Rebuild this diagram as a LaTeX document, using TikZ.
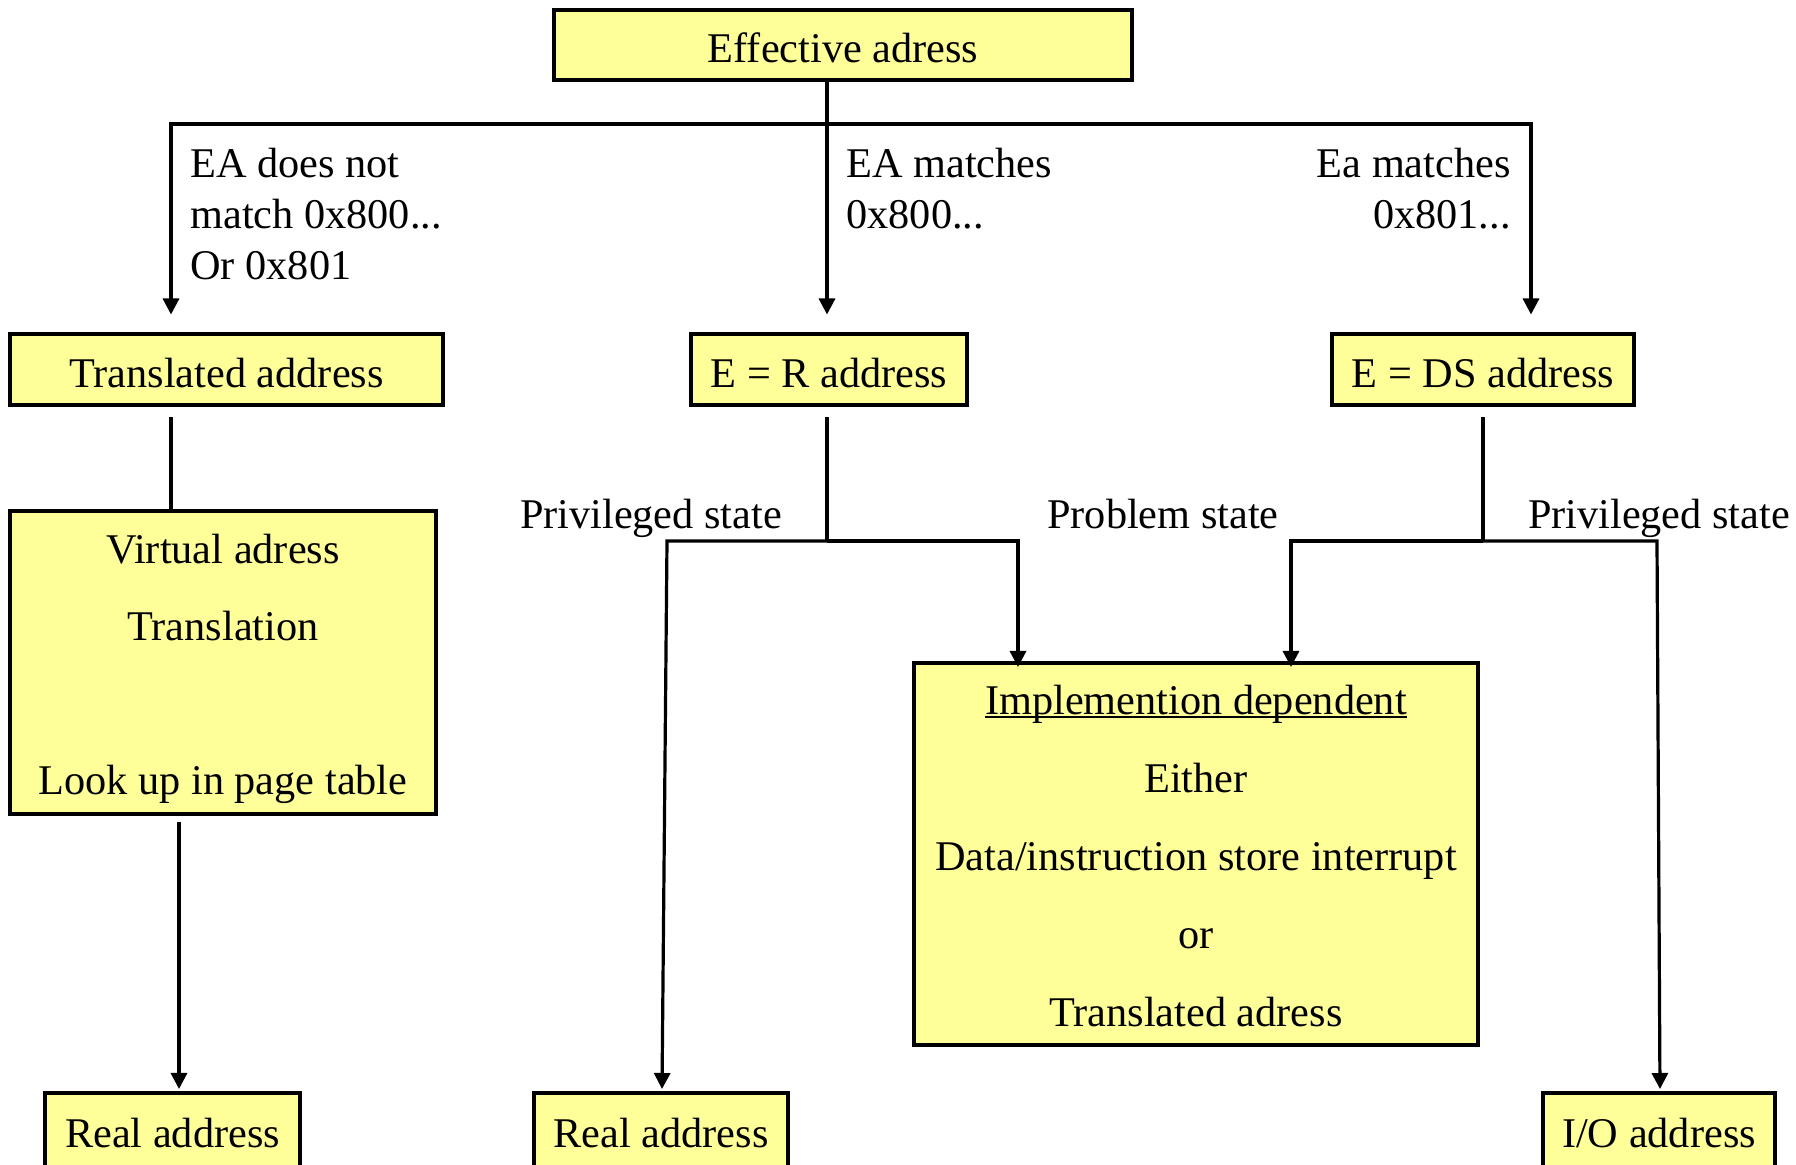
\documentclass[tikz,border=0pt]{standalone}
\usepackage{fontspec}
\setmainfont{Liberation Serif}
\usetikzlibrary{arrows.meta}
\definecolor{boxyellow}{HTML}{FFFF99}
% underline drawn close to the baseline, crossing the descenders
\newcommand{\baseul}[1]{\setbox0\hbox{#1}\rlap{\rule[-2pt]{\wd0}{1.1pt}}\box0}
% invisible strut that lowers the text inside a box
\newcommand{\lift}[1]{\rule{0pt}{#1}}

\begin{document}
\begin{tikzpicture}[x=0.5pt,y=-0.5pt,
  box/.style={draw, line width=2pt, fill=boxyellow, inner sep=0pt, align=center,
    font=\fontsize{21.15pt}{38.5pt}\selectfont},
  lbl/.style={inner sep=0pt, font=\fontsize{21.15pt}{25.5pt}\selectfont},
  wire/.style={line width=1.6pt},
  arr/.style={wire, -{Triangle[length=8pt,width=8pt]}},
]
\path[use as bounding box, fill=white] (0,0) rectangle (1796,1165);

% boxes
\node[box, minimum width=289pt, minimum height=35pt] (ea) at (843,45) {\lift{17.4pt}Effective adress};
\node[box, minimum width=216.5pt, minimum height=35.5pt] (tr) at (226.5,370) {\lift{17.4pt}Translated address};
\node[box, minimum width=138pt, minimum height=35.5pt] (er) at (829,370) {\lift{17.4pt}E = R address};
\node[box, minimum width=151pt, minimum height=35.5pt] (eds) at (1483,370) {\lift{17.4pt}E = DS address};
\node[box, minimum width=213pt, minimum height=151.5pt] (va) at (223,662.5)
  {\lift{21pt}Virtual adress\\Translation\\[38.5pt]Look up in page table};
\node[box, minimum width=282pt, minimum height=191pt,
  font=\fontsize{21.15pt}{39pt}\selectfont] (impl) at (1196,854)
  {\lift{16.4pt}\baseul{Implemention dependent}\\Either\\Data/instruction store interrupt\\or\\Translated adress};
\node[box, minimum width=127.5pt, minimum height=40pt] (ra1) at (172.5,1133) {Real address};
\node[box, minimum width=127pt, minimum height=40pt] (ra2) at (661,1133) {Real address};
\node[box, minimum width=116pt, minimum height=40pt] (io) at (1659,1133) {I/O address};

% branch labels
\node[lbl, align=left, anchor=north west] (c1) at (190,148) {EA does not\\match 0x800...\\Or 0x801};
\node[lbl, align=left, anchor=north west] (c2) at (846,148) {EA matches\\0x800...};
\node[lbl, align=right, anchor=north east] (c3) at (1511,148) {Ea matches\\0x801...};
\node[lbl, anchor=base] (s1) at (651,529) {Privileged state};
\node[lbl, anchor=base] (s2) at (1163,529) {Problem state};
\node[lbl, anchor=base] (s3) at (1659,529) {Privileged state};

% junction points
\coordinate (top) at (827,124);
\coordinate (topL) at (171,124);
\coordinate (topR) at (1531,124);
\coordinate (xv) at (179,0);
\coordinate (rJ) at (827,541);
\coordinate (rL) at (667,541);
\coordinate (rR) at (1018,541);
\coordinate (xr2) at (662,0);
\coordinate (dJ) at (1483,541);
\coordinate (dL) at (1291,541);
\coordinate (dR) at (1657,541);
\coordinate (xio) at (1660,0);

% effective address fan-out
\draw[wire] (ea.south -| top) -- (top);
\draw[arr, shorten >=9pt] (top) -- (topL) -- (topL |- tr.north);
\draw[arr, shorten >=9pt] (top) -- (topR) -- (topR |- eds.north);
\draw[arr, shorten >=9pt] (top) -- (top |- er.north);

% translated path
\draw[wire, shorten <=5pt] (topL |- tr.south) -- (topL |- va.north);
\draw[arr, shorten <=3pt, shorten >=1pt] (xv |- va.south) -- (xv |- ra1.north);

% E = R branch
\draw[wire, shorten <=5pt] (er.south -| rJ) -- (rJ);
\draw[arr, shorten >=1pt] (rJ) -- (rL) -- (xr2 |- ra2.north);
\draw[arr, shorten >=-3pt] (rJ) -- (rR) -- (rR |- impl.north);

% E = DS branch
\draw[wire, shorten <=5pt] (eds.south -| dJ) -- (dJ);
\draw[arr, shorten >=-3pt] (dJ) -- (dL) -- (dL |- impl.north);
\draw[arr, shorten >=1pt] (dJ) -- (dR) -- (xio |- io.north);
\end{tikzpicture}
\end{document}
